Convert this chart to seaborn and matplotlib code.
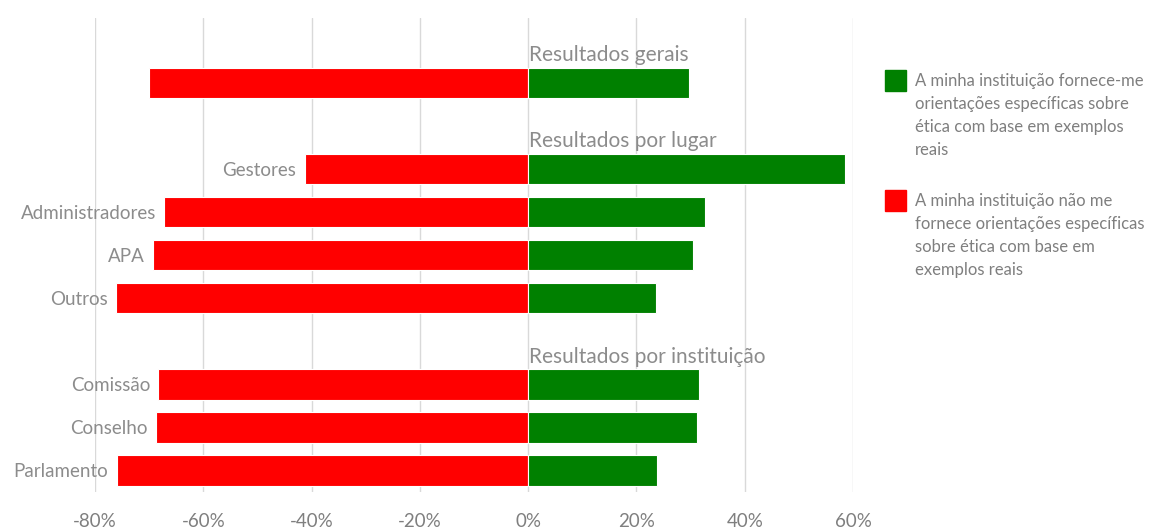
import matplotlib.pyplot as plt
import pandas as pd
import seaborn as sns
from matplotlib.patches import Rectangle
from matplotlib.ticker import PercentFormatter

# values in percent
groups = ["Geral", "Gestores", "Administradores", "APA", "Outros",
          "Comissão", "Conselho", "Parlamento"]
nao_fornece = [70.0, 41.3, 67.2, 69.3, 76.1, 68.3, 68.7, 76.0]
fornece = [29.8, 58.6, 32.6, 30.5, 23.7, 31.5, 31.2, 23.8]
sections = ["Resultados gerais", "Resultados por lugar", "Resultados por instituição"]
legend_labels = [
    "A minha instituição fornece-me\norientações específicas sobre\nética com base em exemplos\nreais",
    "A minha instituição não me\nfornece orientações específicas\nsobre ética com base em\nexemplos reais",
]

GREEN = "#008000"
RED = "#ff0000"
LABEL_GREY = "#8c8c8c"
TICK_GREY = "#7f7f7f"

sns.set_theme(style="white")
plt.rcParams["font.family"] = ["Lato", "DejaVu Sans"]
plt.rcParams["axes.unicode_minus"] = False

# empty rows in the order leave room for the section headings
order = ["Geral", "_lugar", "Gestores", "Administradores", "APA", "Outros",
         "_inst", "Comissão", "Conselho", "Parlamento"]
df = pd.DataFrame({"grupo": groups,
                   "nao": [-v / 100 for v in nao_fornece],
                   "sim": [v / 100 for v in fornece]})

fig = plt.figure(figsize=(11.5, 5.28), dpi=100)
ax = fig.add_axes([95 / 1150, 36 / 528, 758 / 1150, 474 / 528])

sns.barplot(data=df, x="nao", y="grupo", order=order, color=RED, saturation=1,
            width=0.7, edgecolor="white", linewidth=0.8, orient="h", ax=ax, zorder=3)
sns.barplot(data=df, x="sim", y="grupo", order=order, color=GREEN, saturation=1,
            width=0.7, edgecolor="white", linewidth=0.8, orient="h", ax=ax, zorder=3)

ax.set_xlim(-0.8, 0.6)
ax.set_ylim(9.5, -1.52)
ax.set_xticks([-0.8, -0.6, -0.4, -0.2, 0, 0.2, 0.4, 0.6])
ax.xaxis.set_major_formatter(PercentFormatter(1.0, decimals=0))
ax.set_yticks([])
ax.set_xlabel("")
ax.set_ylabel("")
ax.grid(axis="x", color="#d9d9d9", linewidth=1, zorder=0)
ax.tick_params(axis="x", colors=TICK_GREY, labelsize=13.5, length=0, pad=15)
for spine in ax.spines.values():
    spine.set_visible(False)

# category labels sit just left of each red bar
for name, val in zip(groups, nao_fornece):
    if name == "Geral":
        continue
    ax.annotate(name, xy=(-val / 100, order.index(name) + 0.03), xytext=(-6, 0),
                textcoords="offset points", ha="right", va="center",
                fontsize=13.5, color=LABEL_GREY)

# section headings above each block
for title, first in zip(sections, ["Geral", "Gestores", "Comissão"]):
    ax.text(0.001, order.index(first) - 0.65, title, ha="left", va="center",
            fontsize=15, color=LABEL_GREY)

# legend drawn by hand so the squares line up with the first text line
for (top, color), label in zip([(70, GREEN), (190, RED)], legend_labels):
    fig.patches.append(Rectangle((885 / 1150, 1 - (top + 21) / 528), 21 / 1150, 21 / 528,
                                 transform=fig.transFigure, color=color))
    fig.text(915 / 1150, 1 - (top + 3) / 528, label, ha="left", va="top",
             fontsize=12, color=TICK_GREY, linespacing=1.55)

fig.savefig("out.png", dpi=100)
